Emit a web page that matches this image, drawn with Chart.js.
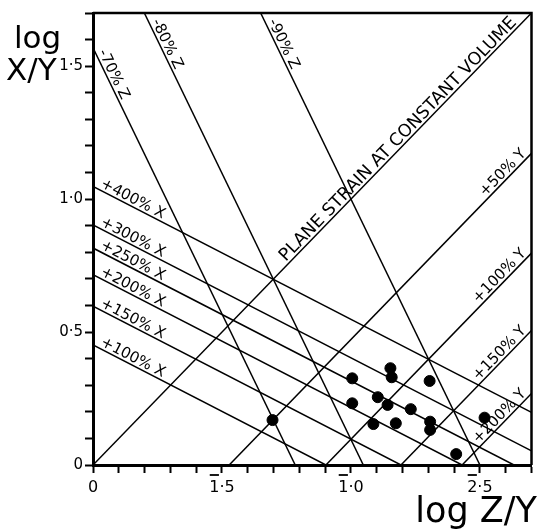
<!DOCTYPE html>
<html>
<head>
<meta charset="utf-8">
<script src="https://cdn.jsdelivr.net/npm/chart.js@4.4.1/dist/chart.umd.min.js"></script>
<style>
  html, body { margin: 0; padding: 0; background: #fff; }
  #wrap { width: 538px; height: 529px; }
</style>
</head>
<body>
<div id="wrap"><canvas id="chart" width="538" height="529"></canvas></div>
<script>
(function(){
  'use strict';

  // log Z/Y is negative; it is plotted by magnitude and labelled in bar notation
  let xTickValues = [0, 0.5, 1.0, 1.5];
  let xTickLabels = ['0', '1\u00b75', '1\u00b70', '2\u00b75'];
  let xTickBarred = [false, true, true, true];
  let yTickValues = [0, 0.5, 1.0, 1.5];
  let yTickLabels = ['0', '0\u00b75', '1\u00b70', '1\u00b75'];

  // lines of equal X stretch  (end points in |log Z/Y|, log X/Y)
  let xLineLabels = ['+100% X', '+150% X', '+200% X', '+250% X', '+300% X', '+400% X'];
  let xLineFrom = [[0, 0.452], [0, 0.597], [0, 0.716], [0, 0.816], [0, 0.903], [0, 1.048]];
  let xLineTo = [[0.903, 0], [1.194, 0], [1.431, 0], [1.632, 0], [1.7, 0.053], [1.7, 0.198]];

  // lines of equal Y stretch
  let yLineLabels = ['+50% Y', '+100% Y', '+150% Y', '+200% Y'];
  let yLineFrom = [[0.528, 0], [0.903, 0], [1.194, 0], [1.431, 0]];
  let yLineTo = [[1.7, 1.172], [1.7, 0.797], [1.7, 0.506], [1.7, 0.269]];

  // lines of equal Z shortening
  let zLineLabels = ['-70% Z', '-80% Z', '-90% Z'];
  let zLineFrom = [[0, 1.569], [0.199, 1.7], [0.65, 1.7]];
  let zLineTo = [[0.784, 0], [1.048, 0], [1.5, 0]];

  let planeLabel = 'PLANE STRAIN AT CONSTANT VOLUME';
  let planeFrom = [0, 0];
  let planeTo = [1.7, 1.7];

  // measured samples
  let sampleZY = [0.696, 1.005, 1.005, 1.153, 1.158, 1.104, 1.142, 1.087, 1.174, 1.232, 1.305, 1.307, 1.307, 1.518, 1.408];
  let sampleXY = [0.169, 0.326, 0.232, 0.364, 0.330, 0.255, 0.226, 0.154, 0.157, 0.210, 0.316, 0.163, 0.132, 0.178, 0.041];

  let font = 'DejaVu Sans';
  let xTickSize = 16;

  function lineSet(from, to, label, tag) {
    return {
      type: 'line',
      label: label,
      data: [{x: from[0], y: from[1]}, {x: to[0], y: to[1]}],
      borderColor: '#000',
      borderWidth: 1.5,
      pointRadius: 0,
      fill: false,
      tension: 0,
      tag: tag,
    };
  }

  let datasets = [];
  xLineLabels.forEach(function(l, i){
    datasets.push(lineSet(xLineFrom[i], xLineTo[i], l, {along: 6, lift: 3, size: 15, fromEnd: false}));
  });
  yLineLabels.forEach(function(l, i){
    datasets.push(lineSet(yLineFrom[i], yLineTo[i], l, {along: 4, lift: 3, size: 15, fromEnd: true}));
  });
  zLineLabels.forEach(function(l, i){
    datasets.push(lineSet(zLineFrom[i], zLineTo[i], l, {along: i ? 11 : 6, lift: 3, size: 15, fromEnd: false}));
  });
  datasets.push(lineSet(planeFrom, planeTo, planeLabel, {along: 280, lift: 3, size: 17.5, fromEnd: false}));

  datasets.push({
    type: 'scatter',
    label: 'samples',
    data: sampleZY.map(function(v, i){ return {x: v, y: sampleXY[i]}; }),
    backgroundColor: '#000',
    borderColor: '#000',
    pointRadius: 5.5,
  });

  function tickText(values, labels) {
    return function(v) {
      for (let i = 0; i < values.length; i++) {
        if (Math.abs(values[i] - v) < 1e-6) return labels[i];
      }
      return '';
    };
  }

  //labels along the lines, frame, bars over tick labels and axis titles
  let annotate = {
    id: 'annotate',
    afterDraw: function(chart) {
      let ctx = chart.ctx;
      let a = chart.chartArea;
      let xs = chart.scales.x, ys = chart.scales.y;
      ctx.save();
      ctx.strokeStyle = '#000';
      ctx.lineWidth = 2.5;
      ctx.beginPath();
      ctx.moveTo(a.left, a.top);
      ctx.lineTo(a.right, a.top);
      ctx.lineTo(a.right, a.bottom);
      ctx.stroke();

      ctx.fillStyle = '#000';
      ctx.textBaseline = 'alphabetic';
      chart.data.datasets.forEach(function(ds){
        if (!ds.tag) return;
        let t = ds.tag;
        let x0 = xs.getPixelForValue(ds.data[0].x), y0 = ys.getPixelForValue(ds.data[0].y);
        let x1 = xs.getPixelForValue(ds.data[1].x), y1 = ys.getPixelForValue(ds.data[1].y);
        let ang = Math.atan2(y1 - y0, x1 - x0);
        ctx.save();
        ctx.font = t.size + 'px "' + font + '"';
        if (t.fromEnd) {
          ctx.translate(x1, y1);
          ctx.rotate(ang);
          ctx.textAlign = 'right';
          ctx.fillText(ds.label, -t.along, -t.lift);
        } else {
          ctx.translate(x0, y0);
          ctx.rotate(ang);
          ctx.textAlign = 'left';
          ctx.fillText(ds.label, t.along, -t.lift);
        }
        ctx.restore();
      });

      // bar over the characteristic of negative logs
      ctx.font = xTickSize + 'px "' + font + '"';
      ctx.lineWidth = 1.8;
      xTickValues.forEach(function(v, i){
        if (!xTickBarred[i]) return;
        let px = xs.getPixelForValue(v);
        let w = ctx.measureText(xTickLabels[i]).width;
        let c = ctx.measureText(xTickLabels[i].charAt(0)).width;
        let left = px - w / 2;
        ctx.beginPath();
        ctx.moveTo(left + 0.5, a.bottom + 10);
        ctx.lineTo(left + c - 0.5, a.bottom + 10);
        ctx.stroke();
      });

      ctx.textAlign = 'left';
      ctx.font = '31px "' + font + '"';
      ctx.fillText('log', 14, 48);
      ctx.fillText('X/Y', 6, 80);
      ctx.textAlign = 'right';
      ctx.font = '35px "' + font + '"';
      ctx.fillText('log Z/Y', 537, 522);
      ctx.restore();
    }
  };

  let canvas = document.getElementById('chart');

  let chart = new Chart(canvas, {
    type: 'scatter',
    data: {datasets: datasets},
    options: {
      responsive: false,
      animation: false,
      devicePixelRatio: 1,
      layout: {padding: {top: 13, right: 3, left: 0, bottom: 0}},
      plugins: {legend: {display: false}, tooltip: {enabled: false}},
      scales: {
        x: {
          type: 'linear',
          position: 'bottom',
          min: 0,
          max: 1.7,
          afterFit: function(s){ s.height = 64; },
          ticks: {
            stepSize: 0.1,
            autoSkip: false,
            maxRotation: 0,
            padding: 5,
            color: '#000',
            font: {family: font, size: xTickSize},
            callback: tickText(xTickValues, xTickLabels),
          },
          grid: {drawOnChartArea: false, drawTicks: true, tickLength: 8, tickColor: '#000', tickWidth: 2},
          border: {color: '#000', width: 3},
        },
        y: {
          type: 'linear',
          min: 0,
          max: 1.7,
          afterFit: function(s){ s.width = 93; },
          ticks: {
            stepSize: 0.1,
            autoSkip: false,
            padding: 2,
            color: '#000',
            font: {family: font, size: 15},
            callback: tickText(yTickValues, yTickLabels),
          },
          grid: {drawOnChartArea: false, drawTicks: true, tickLength: 8, tickColor: '#000', tickWidth: 2},
          border: {color: '#000', width: 3},
        },
      },
    },
    plugins: [annotate],
  });

})();
</script>
</body>
</html>
